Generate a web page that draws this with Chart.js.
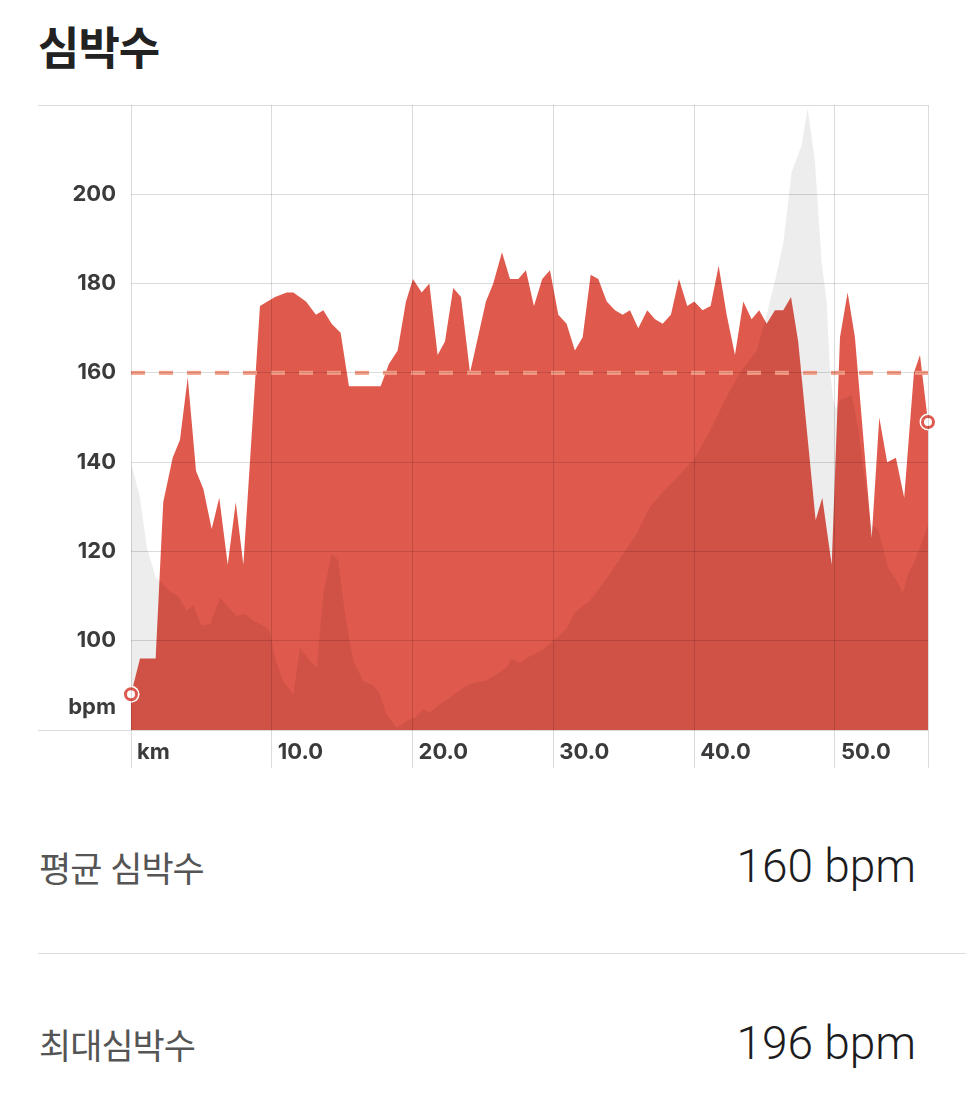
<!DOCTYPE html>
<html lang="ko">
<head>
<meta charset="utf-8">
<title>심박수</title>
<script src="https://cdn.jsdelivr.net/npm/chart.js@4.4.1/dist/chart.umd.min.js"></script>
<style>
  html, body { margin: 0; padding: 0; background: #fff; }
  body { width: 966px; height: 1105px; position: relative; overflow: hidden; font-family: "Noto Sans CJK KR", sans-serif; }
  h1 { position: absolute; left: 38px; top: 16px; margin: 0; font-size: 45px; line-height: 60px; font-weight: 700; letter-spacing: -1px; color: #222; }
  #chart-box { position: absolute; left: 0; top: 90px; width: 966px; height: 700px; }
  .row { position: absolute; left: 39px; right: 50px; height: 60px; display: flex; justify-content: space-between; align-items: center; }
  .row .name { font-size: 35px; letter-spacing: -1px; color: #555; }
  .row .value { font-family: Roboto, sans-serif; font-weight: 300; font-size: 46px; color: #1c1c1e; }
  .sep { position: absolute; left: 38px; right: 0; top: 953px; height: 1px; background: #dcdcdc; }
</style>
</head>
<body>
<h1>심박수</h1>
<div id="chart-box"><canvas id="hr-chart"></canvas></div>
<div class="row" style="top:836px"><span class="name">평균 심박수</span><span class="value" id="avg-text"></span></div>
<div class="sep"></div>
<div class="row" style="top:1013px"><span class="name">최대심박수</span><span class="value" id="max-text"></span></div>

<script>
// heart rate (km, bpm)
const hrKm = [0, 0.64, 1.75, 2.29, 2.96, 3.48, 4.03, 4.62, 5.14, 5.73,
  6.27, 6.87, 7.44, 7.98, 9.16, 10.23, 11.06, 11.53, 12.43, 13.14,
  13.66, 14.25, 14.89, 15.48, 17.73, 18.32, 18.94, 19.53, 20.03, 20.65,
  21.19, 21.78, 22.30, 22.89, 23.44, 24.08, 25.21, 25.73, 26.35, 26.92,
  27.51, 28.05, 28.62, 29.21, 29.76, 30.35, 30.94, 31.53, 32.08, 32.65,
  33.19, 33.79, 34.38, 34.92, 35.44, 36.03, 36.67, 37.22, 37.76, 38.35,
  38.92, 39.51, 40.01, 40.60, 41.17, 41.74, 42.31, 42.90, 43.49, 44.08,
  44.62, 45.15, 45.74, 46.33, 46.88, 47.39, 48.63, 49.10, 49.77, 50.36,
  50.90, 51.42, 52.61, 53.15, 53.71, 54.33, 54.92, 55.61, 56.04, 56.61];
const hrBpm = [88, 96, 96, 131, 141, 145, 159, 138, 134, 125,
  132, 117, 131, 117, 175, 177, 178, 178, 176, 173,
  174, 171, 169, 157, 157, 162, 165, 176, 181, 178,
  180, 164, 167, 179, 177, 160, 176, 180, 187, 181,
  181, 183, 175, 181, 183, 173, 171, 165, 168, 182,
  181, 176, 174, 173, 174, 170, 174, 172, 171, 173,
  181, 175, 176, 174, 175, 184, 173, 164, 176, 172,
  174, 171, 174, 174, 177, 167, 127, 132, 117, 168,
  178, 168, 123, 150, 140, 141, 132, 160, 164, 149];

// elevation profile drawn as grey shadow (relative height)
const elevKm = [0, 0.64, 1.12, 1.78, 2.06, 2.77, 3.36, 3.96, 4.42, 5.02,
  5.61, 6.32, 6.91, 7.51, 8.10, 8.69, 9.40, 9.87, 10.23, 10.82,
  11.53, 12.00, 12.59, 13.19, 13.66, 14.25, 14.72, 15.20, 15.79, 16.50,
  17.21, 17.68, 18.16, 18.87, 19.58, 20.17, 20.76, 21.24, 21.95, 22.66,
  23.60, 24.31, 25.14, 25.97, 26.68, 27.04, 27.63, 28.34, 29.28, 30.23,
  30.94, 31.53, 32.60, 33.79, 34.96, 35.92, 36.86, 37.69, 39.94, 41.12,
  42.31, 43.25, 44.44, 45.15, 45.74, 46.33, 46.92, 47.28, 47.63, 48.06,
  48.58, 48.81, 49.05, 49.41, 49.64, 49.88, 50.07, 50.36, 51.21, 51.63,
  52.13, 52.56, 53.05, 53.41, 53.76, 54.40, 54.83, 55.18, 55.54, 56.04,
  56.39, 56.61];
const elevHeight = [60, 52, 41, 34, 33.5, 31, 30, 26.7, 28, 23.4,
  23.7, 29.7, 27.5, 25.6, 26, 24.5, 23.4, 22, 16, 11,
  8, 18.5, 16, 14, 30.5, 39.5, 38, 26, 15.5, 11,
  10, 8, 3.5, 0.5, 2, 2.8, 4.6, 4, 5.8, 7.3,
  9.5, 10.6, 11, 12.5, 14, 16, 15, 16.6, 18, 20.7,
  22.6, 26.4, 29, 34, 39.5, 44, 50, 53, 60.4, 67,
  74.7, 80, 85, 93, 100.6, 109, 125, 128, 131, 139.3,
  127.5, 116.3, 105, 96, 81, 74, 72, 74, 75, 68,
  56, 46, 45, 41, 36.4, 33.4, 30.8, 35, 37, 41,
  44, 46];

const avgBpm = 160;
const maxBpm = 196;

// tick labels
const xTickValues = [0, 10, 20, 30, 40, 50];
const yTickValues = [80, 85, 100, 120, 140, 160, 180, 200, 220];
const yUnitTick = 85;   // where the "bpm" label sits

document.getElementById('avg-text').textContent = avgBpm + ' bpm';
document.getElementById('max-text').textContent = maxBpm + ' bpm';

const kmEnd = hrKm[hrKm.length - 1];
const yMin = yTickValues[0];
const yMax = yTickValues[yTickValues.length - 1];

function toPoints(xs, ys) {
  return xs.map((x, i) => ({ x: x, y: ys[i] }));
}

const gridGrey = 'rgba(0,0,0,0.14)';
const redFill = '#e0594d';
const ringRed = '#dc5a4e';
const labelFont = { family: 'Inter', size: 22, weight: '700' };
const endPoints = [
  { x: hrKm[0], y: hrBpm[0] },
  { x: kmEnd, y: hrBpm[hrBpm.length - 1] }
];

new Chart(document.getElementById('hr-chart'), {
  type: 'line',
  data: {
    datasets: [
      { // average line
        data: [{ x: 0, y: avgBpm }, { x: kmEnd, y: avgBpm }],
        borderColor: '#f49c86', borderWidth: 4, borderDash: [14, 14],
        pointRadius: 0, fill: false, order: 0
      },
      { // start / end markers
        data: endPoints, showLine: false, clip: false,
        pointRadius: 5.5, pointBorderWidth: 3,
        pointBorderColor: ringRed, pointBackgroundColor: '#fff', order: 1
      },
      { // white halo behind markers
        data: endPoints, showLine: false, clip: false,
        pointRadius: 8.5, pointBorderWidth: 0,
        pointBackgroundColor: '#fff', order: 2
      },
      { // elevation shadow
        data: toPoints(elevKm, elevHeight), yAxisID: 'yElev',
        fill: 'start', backgroundColor: 'rgba(0,0,0,0.07)',
        borderWidth: 0, borderColor: 'transparent', pointRadius: 0, order: 3
      },
      { // heart rate
        data: toPoints(hrKm, hrBpm),
        fill: 'start', backgroundColor: redFill,
        borderWidth: 0, borderColor: 'transparent', pointRadius: 0, order: 4
      }
    ]
  },
  options: {
    responsive: true,
    maintainAspectRatio: false,
    animation: false,
    events: [],
    elements: { line: { tension: 0 } },
    layout: { padding: { left: 38, right: 38, top: 15, bottom: 20 } },
    plugins: { legend: { display: false }, tooltip: { enabled: false } },
    scales: {
      x: {
        type: 'linear', min: 0, max: kmEnd,
        afterBuildTicks: s => { s.ticks = xTickValues.concat([kmEnd]).map(v => ({ value: v })); },
        afterFit: s => { s.height = 40; },
        grid: { z: 1, color: gridGrey, tickColor: gridGrey, tickLength: 38 },
        border: { display: false },
        ticks: {
          autoSkip: false, maxRotation: 0, align: 'start', labelOffset: 6, padding: -29,
          color: '#3b3b3d', font: labelFont,
          callback: v => v === 0 ? 'km' : (v === kmEnd ? '' : v.toFixed(1))
        }
      },
      y: {
        min: yMin, max: yMax,
        afterBuildTicks: s => { s.ticks = yTickValues.map(v => ({ value: v })); },
        afterFit: s => { s.width = 93; },
        grid: {
          z: 1, tickLength: 93,
          color: c => (c.tick && c.tick.value === yUnitTick) ? 'transparent' : gridGrey,
          tickColor: c => (c.tick && (c.tick.value === yMin || c.tick.value === yMax)) ? gridGrey : 'transparent'
        },
        border: { display: false },
        ticks: {
          padding: -78, color: '#3b3b3d', font: labelFont,
          callback: v => v === yUnitTick ? 'bpm' : ((v === yMin || v === yMax) ? '' : String(v))
        }
      },
      yElev: { display: false, min: 0, max: 140 }
    }
  }
});
</script>
</body>
</html>
